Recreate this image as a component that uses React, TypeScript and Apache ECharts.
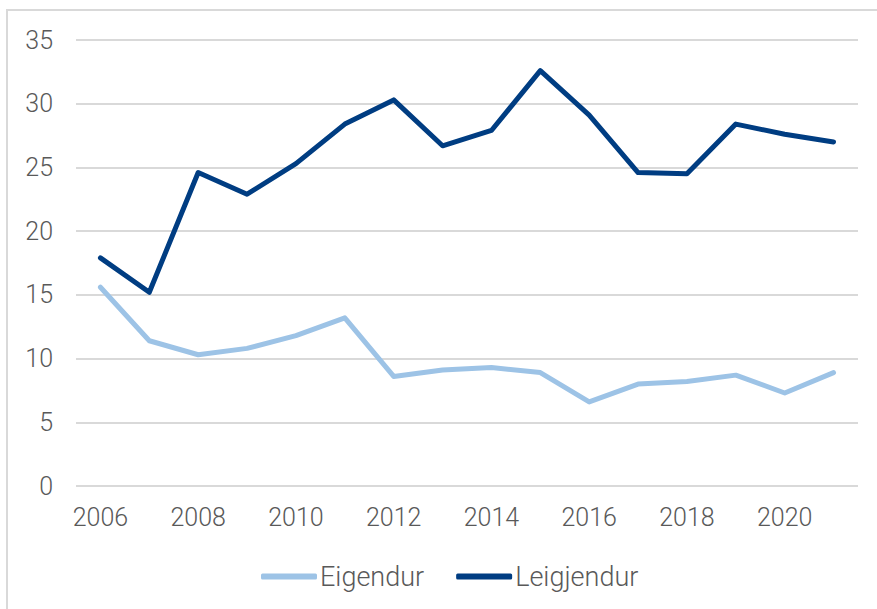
import React, { useEffect, useRef } from "react";
import * as echarts from "echarts";

const years = ["2006","2007","2008","2009","2010","2011","2012","2013","2014","2015","2016","2017","2018","2019","2020","2021"];
const eigendur = [15.6, 11.4, 10.3, 10.8, 11.8, 13.2, 8.6, 9.1, 9.3, 8.9, 6.6, 8.0, 8.2, 8.7, 7.3, 8.9];
const leigjendur = [17.9, 15.2, 24.6, 22.9, 25.3, 28.4, 30.3, 26.7, 27.9, 32.6, 29.1, 24.6, 24.5, 28.4, 27.6, 27.0];
const seriesNames = ["Eigendur", "Leigjendur"];

const FONT = "Roboto, 'Open Sans', sans-serif";

export default function App() {
  const ref = useRef<HTMLDivElement>(null);
  useEffect(() => {
    if (!ref.current) return;
    const chart = echarts.init(ref.current, null, { renderer: "svg" });
    chart.setOption({
      animation: false,
      backgroundColor: "#ffffff",
      graphic: [
        {
          type: "rect",
          shape: { x: 7, y: 10, width: 900, height: 700 },
          style: { fill: "none", stroke: "#d9d9d9", lineWidth: 2 },
          silent: true,
        },
      ],
      grid: { left: 76, right: 19, top: 40, bottom: 123, containLabel: false },
      xAxis: {
        type: "category",
        data: years,
        boundaryGap: true,
        axisLine: { show: false },
        axisTick: { show: false },
        axisLabel: {
          interval: 1,
          color: "#595959",
          fontSize: 25,
          fontFamily: FONT,
          fontWeight: 300,
          margin: 19,
        },
      },
      yAxis: {
        type: "value",
        min: 0,
        max: 35,
        interval: 5,
        axisLine: { show: false },
        axisTick: { show: false },
        splitLine: { lineStyle: { color: "#d9d9d9", width: 2 } },
        axisLabel: {
          color: "#595959",
          fontSize: 25,
          fontFamily: FONT,
          fontWeight: 300,
          margin: 23,
        },
      },
      legend: {
        top: 558,
        left: 256,
        itemWidth: 56,
        itemHeight: 6,
        itemGap: 32,
        icon: "roundRect",
        textStyle: { color: "#595959", fontSize: 27, fontFamily: FONT, fontWeight: 300, padding: [0, 0, 0, -2] },
        data: seriesNames,
      },
      series: [
        {
          name: seriesNames[0],
          type: "line",
          data: eigendur,
          symbol: "none",
          lineStyle: { color: "#9DC3E6", width: 5, cap: "round", join: "round" },
          itemStyle: { color: "#9DC3E6" },
        },
        {
          name: seriesNames[1],
          type: "line",
          data: leigjendur,
          symbol: "none",
          lineStyle: { color: "#003D82", width: 5, cap: "round", join: "round" },
          itemStyle: { color: "#003D82" },
        },
      ],
    });
    return () => chart.dispose();
  }, []);
  return (
    <div
      ref={ref}
      style={{ position: "absolute", left: 0, top: 0, width: 877, height: 609 }}
    />
  );
}
